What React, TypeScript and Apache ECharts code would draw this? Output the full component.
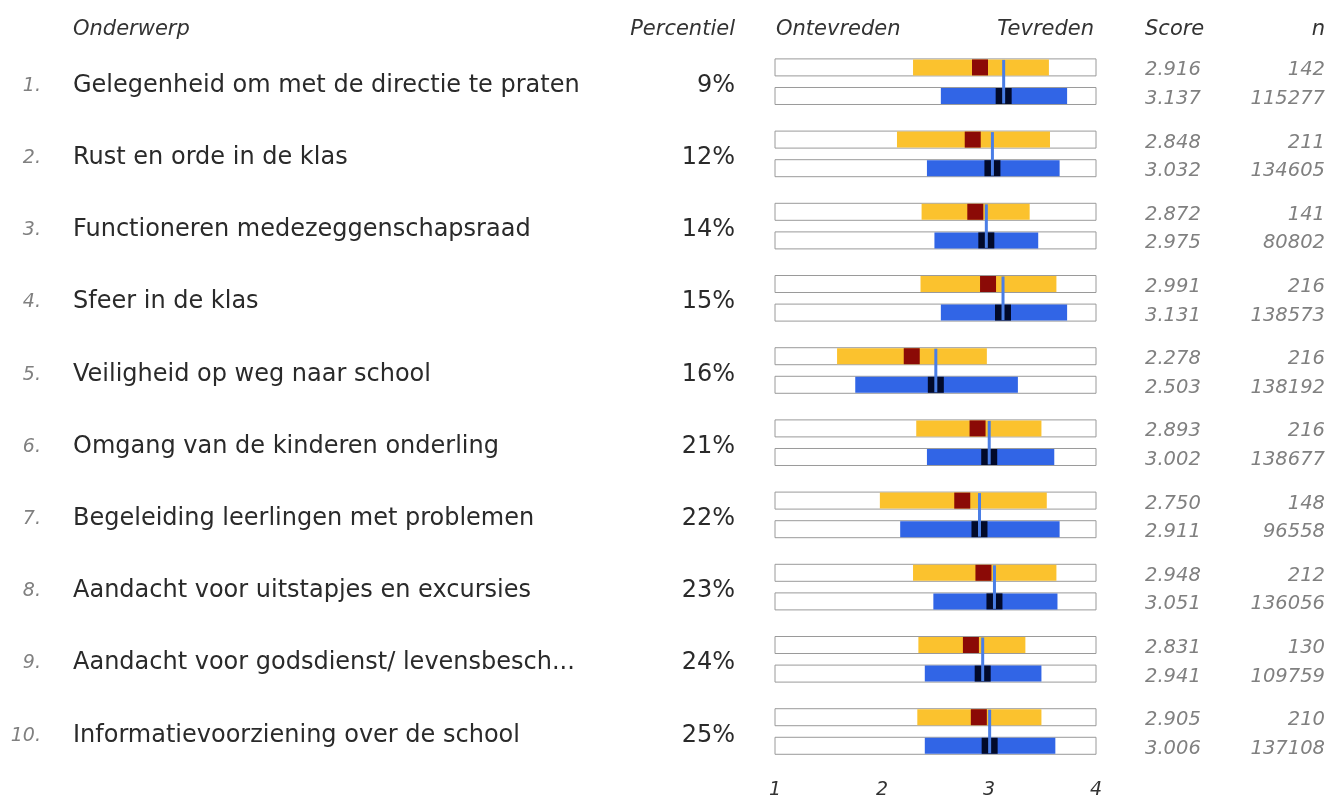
import React, { useEffect, useRef } from "react";
import * as echarts from "echarts";

const topics = [
  "Gelegenheid om met de directie te praten",
  "Rust en orde in de klas",
  "Functioneren medezeggenschapsraad",
  "Sfeer in de klas",
  "Veiligheid op weg naar school",
  "Omgang van de kinderen onderling",
  "Begeleiding leerlingen met problemen",
  "Aandacht voor uitstapjes en excursies",
  "Aandacht voor godsdienst/ levensbesch...",
  "Informatievoorziening over de school",
];
const percentiles = ["9%", "12%", "14%", "15%", "16%", "21%", "22%", "23%", "24%", "25%"];
const schoolScore = [2.916, 2.848, 2.872, 2.991, 2.278, 2.893, 2.75, 2.948, 2.831, 2.905];
const schoolN = [142, 211, 141, 216, 216, 216, 148, 212, 130, 210];
const refScore = [3.137, 3.032, 2.975, 3.131, 2.503, 3.002, 2.911, 3.051, 2.941, 3.006];
const refN = [115277, 134605, 80802, 138573, 138192, 138677, 96558, 136056, 109759, 137108];
const schoolLow = [2.29, 2.14, 2.37, 2.36, 1.58, 2.32, 1.98, 2.29, 2.34, 2.33];
const schoolHigh = [3.56, 3.57, 3.38, 3.63, 2.98, 3.49, 3.54, 3.63, 3.34, 3.49];
const refLow = [2.55, 2.42, 2.49, 2.55, 1.75, 2.42, 2.17, 2.48, 2.4, 2.4];
const refHigh = [3.73, 3.66, 3.46, 3.73, 3.27, 3.61, 3.66, 3.64, 3.49, 3.62];
const axisTicks = [1, 2, 3, 4];

const FONT = '"DejaVu Sans", Verdana, sans-serif';

export default function App() {
  const ref = useRef<HTMLDivElement>(null);
  useEffect(() => {
    if (!ref.current) return;
    const chart = echarts.init(ref.current, null, { renderer: "svg" });
    const renderItem = (params: any, api: any) => {
      const i = params.dataIndex;
      const yc = api.coord([1, i])[1];
      const band = api.size([0, 1])[1];
      const off = band * 0.198;
      const h = 17;
      const x1 = api.coord([1, i])[0];
      const x4 = api.coord([4, i])[0];
      const xv = (v: number) => api.coord([v, i])[0];
      const yU = yc - off - h / 2;
      const yL = yc + off - h / 2;
      const mw = 16;
      const children: any[] = [];
      [yU, yL].forEach((y) => {
        children.push({
          type: "rect",
          shape: { x: x1, y, width: x4 - x1, height: h },
          style: { fill: "#fff", stroke: "#9a9a9a", lineWidth: 1 },
        });
      });
      children.push({
        type: "rect",
        shape: { x: xv(schoolLow[i]), y: yU + 0.5, width: xv(schoolHigh[i]) - xv(schoolLow[i]), height: h - 1 },
        style: { fill: "#fbc22e" },
      });
      children.push({
        type: "rect",
        shape: { x: xv(refLow[i]), y: yL + 0.5, width: xv(refHigh[i]) - xv(refLow[i]), height: h - 1 },
        style: { fill: "#3165e6" },
      });
      children.push({
        type: "rect",
        shape: { x: xv(schoolScore[i]) - mw / 2, y: yU + 0.5, width: mw, height: h - 1 },
        style: { fill: "#8b0a06" },
      });
      children.push({
        type: "rect",
        shape: { x: xv(refScore[i]) - mw / 2, y: yL + 0.5, width: mw, height: h - 1 },
        style: { fill: "#020a2a" },
      });
      children.push({
        type: "line",
        shape: { x1: xv(refScore[i]), y1: yU + 1, x2: xv(refScore[i]), y2: yL + h - 1 },
        style: { stroke: "#4a7ee6", lineWidth: 3 },
      });
      children.push({
        type: "text",
        x: 41,
        y: yc + 2,
        style: { text: i + 1 + ".", font: `italic 19px ${FONT}`, fill: "#808080", textAlign: "right", textVerticalAlign: "middle" },
      });
      children.push({
        type: "text",
        x: 73,
        y: yc + 2,
        style: { text: topics[i], font: `24px ${FONT}`, fill: "#2a2a2a", textAlign: "left", textVerticalAlign: "middle" },
      });
      children.push({
        type: "text",
        x: 735,
        y: yc + 2,
        style: { text: percentiles[i], font: `24px ${FONT}`, fill: "#2a2a2a", textAlign: "right", textVerticalAlign: "middle" },
      });
      const scoreFont = `italic 19.5px ${FONT}`;
      children.push({
        type: "text",
        x: 1145,
        y: yU + h / 2 + 1.5,
        style: { text: schoolScore[i].toFixed(3), font: scoreFont, fill: "#808080", textAlign: "left", textVerticalAlign: "middle" },
      });
      children.push({
        type: "text",
        x: 1145,
        y: yL + h / 2 + 1.5,
        style: { text: refScore[i].toFixed(3), font: scoreFont, fill: "#808080", textAlign: "left", textVerticalAlign: "middle" },
      });
      children.push({
        type: "text",
        x: 1325,
        y: yU + h / 2 + 1.5,
        style: { text: String(schoolN[i]), font: scoreFont, fill: "#808080", textAlign: "right", textVerticalAlign: "middle" },
      });
      children.push({
        type: "text",
        x: 1325,
        y: yL + h / 2 + 1.5,
        style: { text: String(refN[i]), font: scoreFont, fill: "#808080", textAlign: "right", textVerticalAlign: "middle" },
      });
      return { type: "group", children };
    };

    const header = (text: string, x: number, align: string) => ({
      type: "text",
      x,
      y: 28,
      style: { text, font: `italic 21px ${FONT}`, fill: "#333", textAlign: align, textVerticalAlign: "middle" },
    });

    chart.setOption({
      animation: false,
      grid: { left: 775, right: 247, top: 45.6, bottom: 30.4, containLabel: false },
      xAxis: {
        type: "value",
        min: axisTicks[0],
        max: axisTicks[axisTicks.length - 1],
        interval: 1,
        axisLine: { show: false },
        axisTick: { show: false },
        splitLine: { show: false },
        axisLabel: {
          margin: 11,
          fontSize: 19,
          fontStyle: "italic",
          fontFamily: FONT,
          color: "#333",
          formatter: (v: number) => (axisTicks.includes(v) ? String(v) : ""),
        },
      },
      yAxis: { type: "category", data: topics, inverse: true, show: false },
      graphic: [
        header("Onderwerp", 73, "left"),
        header("Percentiel", 735, "right"),
        header("Ontevreden", 776, "left"),
        header("Tevreden", 1094, "right"),
        header("Score", 1145, "left"),
        header("n", 1325, "right"),
      ],
      series: [
        {
          type: "custom",
          renderItem,
          data: topics.map((_, i) => [schoolScore[i], i]),
          encode: { x: 0, y: 1 },
          clip: false,
        },
      ],
    });
    return () => chart.dispose();
  }, []);
  return <div ref={ref} style={{ position: "fixed", left: 0, top: 0, width: 1343, height: 798 }} />;
}
